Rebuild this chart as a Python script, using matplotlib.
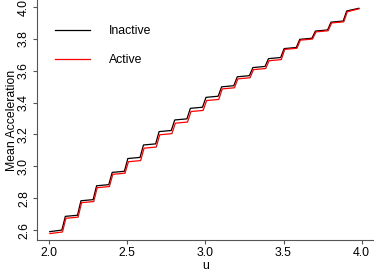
import matplotlib
matplotlib.use('Agg')
import matplotlib.pyplot as plt

plt.rcParams['font.family'] = ['Liberation Sans', 'DejaVu Sans']
plt.rcParams['font.size'] = 8.8

# black: Inactive, red: Active (plateau start/end vertices)
inactive_u = [2.004, 2.082, 2.104, 2.182, 2.204, 2.282, 2.304, 2.382, 2.404, 2.482,
              2.504, 2.582, 2.604, 2.682, 2.704, 2.782, 2.804, 2.882, 2.904, 2.982,
              3.004, 3.082, 3.104, 3.182, 3.204, 3.282, 3.304, 3.382, 3.404, 3.482,
              3.504, 3.582, 3.604, 3.682, 3.704, 3.782, 3.804, 3.882, 3.904, 3.982]
inactive_acc = [2.590, 2.600, 2.686, 2.693, 2.784, 2.791, 2.878, 2.885, 2.962, 2.969,
                3.049, 3.056, 3.134, 3.141, 3.218, 3.225, 3.291, 3.298, 3.364, 3.371,
                3.433, 3.440, 3.499, 3.506, 3.562, 3.569, 3.620, 3.627, 3.676, 3.683,
                3.739, 3.746, 3.797, 3.804, 3.849, 3.856, 3.905, 3.912, 3.975, 3.992]

active_u = [2.006, 2.086, 2.108, 2.186, 2.208, 2.286, 2.308, 2.386, 2.408, 2.486,
            2.508, 2.586, 2.608, 2.686, 2.708, 2.786, 2.808, 2.886, 2.908, 2.986,
            3.008, 3.086, 3.108, 3.186, 3.208, 3.286, 3.308, 3.386, 3.408, 3.486,
            3.508, 3.586, 3.608, 3.686, 3.708, 3.786, 3.808, 3.886, 3.908, 3.984]
active_acc = [2.578, 2.588, 2.674, 2.681, 2.772, 2.779, 2.866, 2.873, 2.950, 2.957,
              3.029, 3.036, 3.114, 3.121, 3.198, 3.205, 3.271, 3.278, 3.344, 3.351,
              3.413, 3.420, 3.486, 3.493, 3.549, 3.556, 3.607, 3.614, 3.663, 3.670,
              3.734, 3.741, 3.792, 3.799, 3.844, 3.851, 3.900, 3.907, 3.970, 3.989]

x_ticks = [2.0, 2.5, 3.0, 3.5, 4.0]
y_ticks = [2.6, 2.8, 3.0, 3.2, 3.4, 3.6, 3.8, 4.0]

fig = plt.figure(figsize=(3.74, 2.71), dpi=100)
ax = fig.add_axes([0.099, 0.114, 0.901, 0.886])

ax.plot(inactive_u, inactive_acc, color='black', lw=0.9, label='Inactive')
ax.plot(active_u, active_acc, color='red', lw=0.9, label='Active')

ax.set_xlim(1.923, 4.079)
ax.set_ylim(2.537, 4.044)
ax.set_xticks(x_ticks)
ax.set_yticks(y_ticks)
ax.set_xticklabels(['%.1f' % t for t in x_ticks])
ax.set_yticklabels(['%.1f' % t for t in y_ticks], rotation=90, va='center')

for s in ['top', 'right']:
    ax.spines[s].set_visible(False)
for s in ['left', 'bottom']:
    ax.spines[s].set_color('#555555')
    ax.spines[s].set_linewidth(0.8)
ax.tick_params(colors='#555555', labelcolor='black', length=3, width=0.8, pad=2)

ax.set_xlabel('u', labelpad=1)
ax.set_ylabel('Mean Acceleration', labelpad=0)

ax.legend(loc='upper left', bbox_to_anchor=(0.053, 0.895), frameon=False,
          borderaxespad=0, borderpad=0, handlelength=2.9, handletextpad=1.5,
          labelspacing=1.4)

fig.savefig('out.png', dpi=100)
